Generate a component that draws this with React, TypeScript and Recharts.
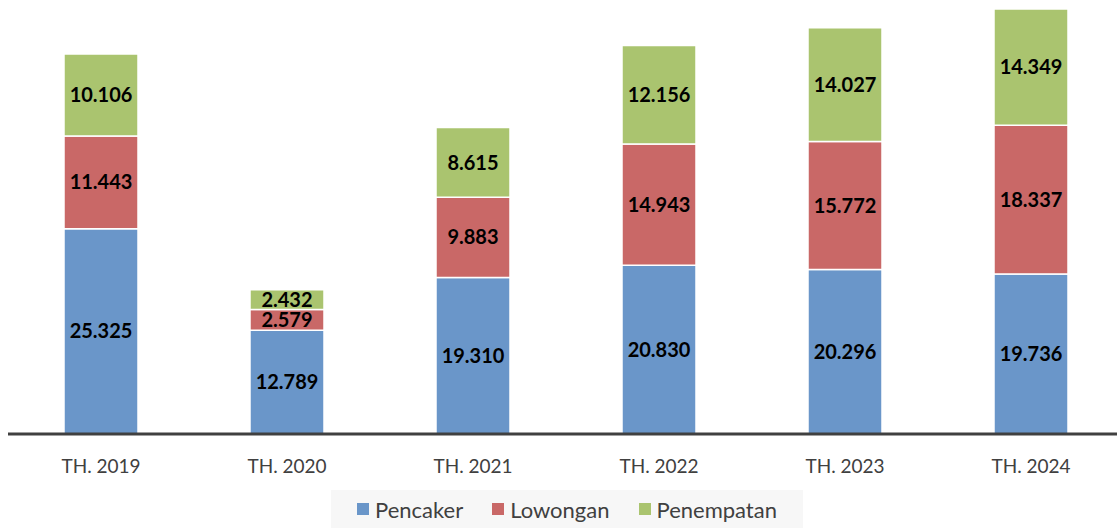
import React from "react";
import { BarChart, Bar, XAxis, YAxis, LabelList } from "recharts";

const categories = ["TH. 2019", "TH. 2020", "TH. 2021", "TH. 2022", "TH. 2023", "TH. 2024"];
const pencaker = [25325, 12789, 19310, 20830, 20296, 19736];
const lowongan = [11443, 2579, 9883, 14943, 15772, 18337];
const penempatan = [10106, 2432, 8615, 12156, 14027, 14349];

const series = [
  { key: "pencaker", name: "Pencaker", color: "#6A96C9" },
  { key: "lowongan", name: "Lowongan", color: "#C96867" },
  { key: "penempatan", name: "Penempatan", color: "#AAC46F" },
];

const data = categories.map((c, i) => ({
  name: c,
  pencaker: pencaker[i],
  lowongan: lowongan[i],
  penempatan: penempatan[i],
}));

const FONT = "Lato, 'Open Sans', sans-serif";
const fmt = (v: any) => Number(v).toLocaleString("de-DE");

export default function App() {
  return (
    <div style={{ position: "absolute", left: 0, top: 0, width: 1117, height: 528, overflow: "hidden", background: "#fff", fontFamily: FONT }}>
      <BarChart
        width={1124}
        height={528}
        data={data}
        margin={{ top: 9, right: 0, bottom: 0, left: 8 }}
        barCategoryGap={56}
      >
        <YAxis hide domain={[0, 52422]} />
        <XAxis
          dataKey="name"
          height={94}
          axisLine={{ stroke: "#404040", strokeWidth: 3 }}
          tickLine={false}
          tickMargin={20}
          tick={{ fill: "#404040", fontSize: 19, fontFamily: FONT }}
        />
        {series.map((s) => (
          <Bar key={s.key} dataKey={s.key} name={s.name} stackId="a" fill={s.color} stroke="#ffffff" strokeWidth={1.5} isAnimationActive={false}>
            <LabelList
              dataKey={s.key}
              position="center"
              formatter={fmt}
              fill="#000"
              fontWeight="bold"
              fontSize={20}
              fontFamily={FONT}
            />
          </Bar>
        ))}
      </BarChart>
      <div
        style={{
          position: "absolute",
          left: 331,
          top: 490,
          width: 472,
          height: 38,
          background: "#F7F7F7",
          display: "flex",
          alignItems: "center",
          justifyContent: "center",
          gap: 29,
        }}
      >
        {series.map((s) => (
          <div key={s.key} style={{ display: "flex", alignItems: "center", gap: 6 }}>
            <div style={{ width: 12, height: 12, background: s.color }} />
            <span style={{ fontSize: 22, color: "#404040" }}>{s.name}</span>
          </div>
        ))}
      </div>
    </div>
  );
}
